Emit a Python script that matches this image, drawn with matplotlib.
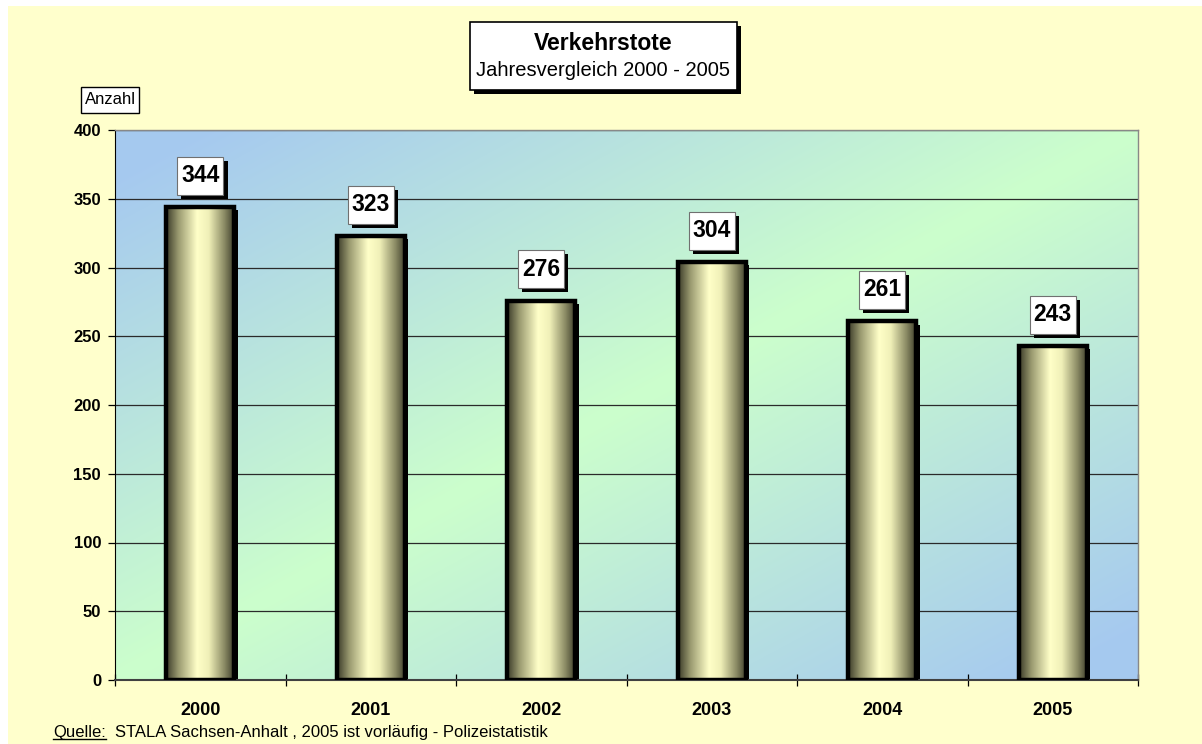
import numpy as np
import matplotlib
matplotlib.use('Agg')
import matplotlib.pyplot as plt
import matplotlib.patheffects as pe
from matplotlib.colors import LinearSegmentedColormap
from matplotlib.patches import Rectangle
from matplotlib.lines import Line2D
from matplotlib.path import Path

years = ['2000', '2001', '2002', '2003', '2004', '2005']
deaths = [344, 323, 276, 304, 261, 243]
yticks = [0, 50, 100, 150, 200, 250, 300, 350, 400]

title = 'Verkehrstote'
subtitle = 'Jahresvergleich 2000 - 2005'
ylabel = 'Anzahl'
source_head = 'Quelle:'
source_text = 'STALA Sachsen-Anhalt , 2005 ist vorläufig - Polizeistatistik'

plt.rcParams['font.family'] = ['Liberation Sans', 'DejaVu Sans']

W, H = 1202, 744


def px(x, y):
    # figure pixel (from top-left) -> figure fraction
    return x / W, 1 - y / H


def padded_box(padx, pady):
    # box style with separate horizontal / vertical padding (fraction of font size)
    def style(x0, y0, width, height, mutation_size):
        dx, dy = padx * mutation_size, pady * mutation_size
        x0, y0 = x0 - dx, y0 - dy
        x1, y1 = x0 + width + 2 * dx, y0 + height + 2 * dy
        return Path([(x0, y0), (x1, y0), (x1, y1), (x0, y1), (x0, y0)], closed=True)
    return style


def main():
    fig = plt.figure(figsize=(W / 100, H / 100), dpi=100, facecolor='white')
    # yellow page background (white strip top / left)
    fig.patches.append(Rectangle((8 / W, 0), 1, 1 - 6 / H, transform=fig.transFigure,
                                 facecolor='#FFFFCC', edgecolor='none', zorder=-10))

    ax = fig.add_axes([115 / W, 64 / H, 1023 / W, 550 / H])
    ax.patch.set_visible(False)

    # diagonal background gradient: blue corners, green diagonal
    n = 300
    gx, gy = np.meshgrid(np.linspace(0, 1, n), np.linspace(1, 0, n))
    t = np.clip(np.abs(gx - gy) * 1.1, 0, 1)
    green = np.array([0.80, 1.0, 0.80])
    blue = np.array([0.65, 0.79, 0.94])
    bg = green[None, None, :] * (1 - t[..., None]) + blue[None, None, :] * t[..., None]
    ax.imshow(bg, extent=[0, 1, 0, 1], transform=ax.transAxes, aspect='auto',
              zorder=0, interpolation='bilinear')

    x = np.arange(len(years))
    width = 0.40
    shadow = [pe.SimplePatchShadow(offset=(2.5, -2.5), shadow_rgbFace='black', alpha=1.0),
              pe.Normal()]
    base = ax.bar(x, deaths, width=width, color='black', zorder=2)
    for b in base:
        b.set_path_effects(shadow)

    cmap = LinearSegmentedColormap.from_list(
        'cyl', [(0.0, '#3A3A28'), (0.18, '#9A9A70'), (0.45, '#FFFFC8'),
                (0.62, '#F0F0B8'), (0.85, '#8A8A64'), (1.0, '#3A3A28')])
    grad = np.linspace(0, 1, 256)[None, :]
    for b in base:
        x0, w, h = b.get_x(), b.get_width(), b.get_height()
        im = ax.imshow(grad, extent=[x0, x0 + w, 0, h], aspect='auto', cmap=cmap,
                       zorder=2.5, interpolation='bilinear')
        im.set_clip_path(b)
    ax.bar(x, deaths, width=width, facecolor='none', edgecolor='black',
           linewidth=3.2, zorder=3)

    for xi, v in zip(x, deaths):
        t_ = ax.annotate(str(v), (xi, v), xytext=(0, 22.5), textcoords='offset points',
                         ha='center', va='center', fontsize=16.5, fontweight='bold',
                         zorder=5,
                         bbox=dict(boxstyle=padded_box(0.17, 0.33), facecolor='white',
                                   edgecolor='#707070', linewidth=0.8))
        t_.get_bbox_patch().set_path_effects(
            [pe.SimplePatchShadow(offset=(3, -3), shadow_rgbFace='black', alpha=1.0),
             pe.Normal()])

    ax.set_xlim(-0.5, len(years) - 0.5)
    ax.set_ylim(0, 400)
    ax.set_yticks(yticks)
    ax.set_yticklabels([str(v) for v in yticks], fontsize=12, fontweight='bold')
    ax.set_xticks(x)
    ax.set_xticklabels(years, fontsize=13, fontweight='bold')
    ax.set_xticks(np.arange(-0.5, len(years), 1.0), minor=True)
    ax.tick_params(axis='x', which='major', length=0, pad=16)
    ax.tick_params(axis='x', which='minor', length=9, direction='inout', width=0.9)
    ax.tick_params(axis='y', length=5, width=0.9, pad=5)

    ax.set_axisbelow(True)
    ax.yaxis.grid(True, color='#2A2A2A', linewidth=0.9)
    for side in ['top', 'right']:
        ax.spines[side].set_color('#888888')
        ax.spines[side].set_linewidth(1)
    ax.spines['left'].set_color('black')
    ax.spines['bottom'].set_color('#404040')
    ax.spines['bottom'].set_linewidth(1.5)

    # title box
    tb = Rectangle(px(470, 90), 267 / W, 68 / H, transform=fig.transFigure,
                   facecolor='white', edgecolor='black', linewidth=1.2, zorder=5)
    tb.set_path_effects([pe.SimplePatchShadow(offset=(3, -3), shadow_rgbFace='black', alpha=1.0),
                         pe.Normal()])
    fig.patches.append(tb)
    fig.text(*px(603, 43), title, ha='center', va='center', fontsize=16.5,
             fontweight='bold', zorder=6)
    fig.text(*px(603, 71), subtitle, ha='center', va='center', fontsize=14.5, zorder=6)

    # y axis unit box
    fig.text(*px(110, 100), ylabel, ha='center', va='center', fontsize=12,
             bbox=dict(boxstyle=padded_box(0.2, 0.35), facecolor='white',
                       edgecolor='black', linewidth=1))

    # source line
    q = fig.text(*px(53, 737), source_head, ha='left', va='baseline', fontsize=12)
    r = fig.canvas.get_renderer()
    bb = q.get_window_extent(r)
    yl = (H - 739) / H
    fig.lines.append(Line2D([bb.x0 / W, bb.x1 / W], [yl, yl],
                            transform=fig.transFigure, color='black', linewidth=1))
    fig.text((bb.x1 + 9) / W, px(0, 737)[1], source_text, ha='left', va='baseline',
             fontsize=12)

    fig.savefig('out.png', dpi=100, facecolor=fig.get_facecolor())


if __name__ == '__main__':
    main()
